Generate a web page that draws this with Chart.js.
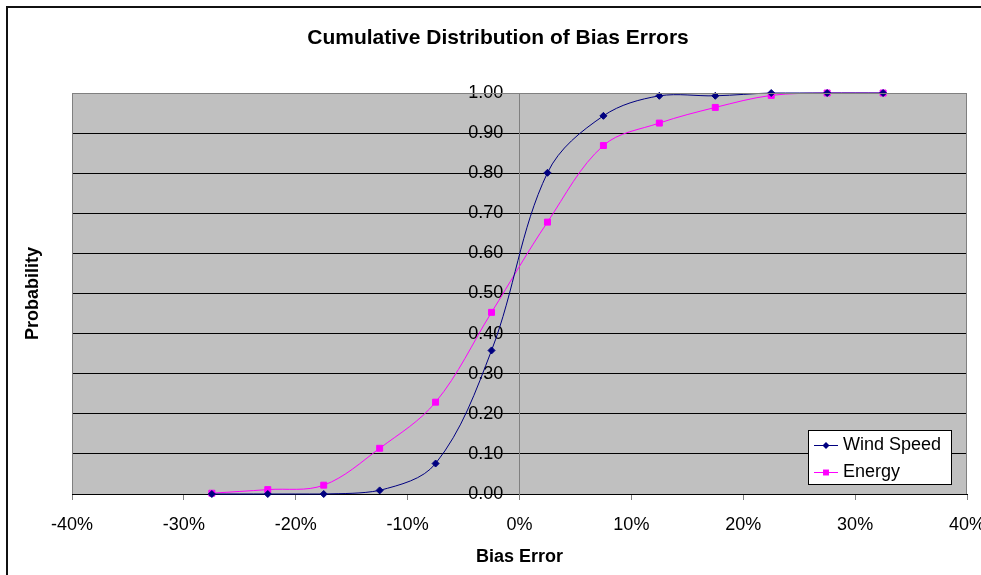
<!DOCTYPE html>
<html>
<head>
<meta charset="utf-8">
<script src="https://cdn.jsdelivr.net/npm/chart.js@4/dist/chart.umd.min.js"></script>
<style>
  html, body { margin: 0; padding: 0; background: #fff; overflow: hidden; }
  #frame { position: absolute; left: 6px; top: 6px; width: 1100px; height: 1000px;
           border-left: 2px solid #111; border-top: 2px solid #111; }
  #wrap { position: absolute; left: 0; top: 0; width: 1000px; height: 575px; }
</style>
</head>
<body>
<div id="frame"></div>
<div id="wrap"><canvas id="cdfChart"></canvas></div>
<script>
"use strict";

// bias error bin centres (%)
var biasErr   = [-27.5, -22.5, -17.5, -12.5, -7.5, -2.5, 2.5, 7.5, 12.5, 17.5, 22.5, 27.5, 32.5];
var windSpeed = [0, 0, 0, 0.009, 0.076, 0.358, 0.801, 0.943, 0.993, 0.993, 1.0, 1.0, 1.0];
var energy    = [0.002, 0.011, 0.022, 0.114, 0.229, 0.453, 0.678, 0.869, 0.925, 0.964, 0.994, 1.0, 1.0];
var seriesNames = ['Wind Speed', 'Energy'];
var xTicks = [-40, -30, -20, -10, 0, 10, 20, 30, 40];

var FONT = "Arial, 'Liberation Sans', sans-serif";
Chart.defaults.font.family = FONT;
Chart.defaults.color = '#000';

function pts(ys) {
  return ys.map(function(y, i) { return { x: biasErr[i], y: y }; });
}

/* plot background, frame, titles and the boxed legend */
var excelLook = {
  id: 'excelLook',
  beforeDraw: function(chart) {
    var a = chart.chartArea, c = chart.ctx;
    c.save();
    c.fillStyle = '#c0c0c0';
    c.fillRect(a.left, a.top, a.right - a.left, a.bottom - a.top);
    c.restore();
  },
  afterDraw: function(chart) {
    var a = chart.chartArea, c = chart.ctx;
    c.save();
    c.strokeStyle = '#808080';
    c.lineWidth = 1;
    c.beginPath();
    c.moveTo(a.left + 0.5, a.bottom);
    c.lineTo(a.left + 0.5, a.top + 0.5);
    c.lineTo(a.right - 0.5, a.top + 0.5);
    c.lineTo(a.right - 0.5, a.bottom);
    c.stroke();

    c.fillStyle = '#000';
    c.textAlign = 'center';
    c.textBaseline = 'middle';
    c.font = 'bold 21px ' + FONT;
    c.fillText('Cumulative Distribution of Bias Errors', 498, 38);
    c.font = 'bold 18px ' + FONT;
    c.fillText('Bias Error', (a.left + a.right) / 2, 557);
    c.translate(33, (a.top + a.bottom) / 2);
    c.rotate(-Math.PI / 2);
    c.fillText('Probability', 0, 0);
    c.restore();

    // legend box
    c.save();
    c.fillStyle = '#fff';
    c.fillRect(808, 430, 143, 54);
    c.strokeStyle = '#000';
    c.lineWidth = 1;
    c.strokeRect(808.5, 430.5, 143, 54);
    c.font = '18px ' + FONT;
    c.textAlign = 'left';
    c.textBaseline = 'middle';
    chart.data.datasets.forEach(function(ds, i) {
      var y = 445 + i * 27;
      c.strokeStyle = ds.borderColor;
      c.lineWidth = 1;
      c.beginPath();
      c.moveTo(814, y + 0.5);
      c.lineTo(838, y + 0.5);
      c.stroke();
      c.fillStyle = ds.pointBackgroundColor;
      Chart.helpers.drawPoint(c, { pointStyle: ds.pointStyle, radius: ds.pointRadius, borderWidth: 0 }, 826, y + 0.5);
      c.fillStyle = '#000';
      c.fillText(seriesNames[i], 843, y);
    });
    c.restore();
  }
};

var yTickLabel = function(v) { return Number(v).toFixed(2); };

new Chart(document.getElementById('cdfChart'), {
  type: 'line',
  data: {
    datasets: [{
      label: seriesNames[0],
      data: pts(windSpeed),
      borderColor: '#000080',
      backgroundColor: '#000080',
      pointBackgroundColor: '#000080',
      pointBorderColor: '#000080',
      pointStyle: 'rectRot',
      pointRadius: 3.5,
      borderWidth: 1,
      tension: 0.35,
      clip: false
    }, {
      label: seriesNames[1],
      data: pts(energy),
      borderColor: '#ff00ff',
      backgroundColor: '#ff00ff',
      pointBackgroundColor: '#ff00ff',
      pointBorderColor: '#ff00ff',
      pointStyle: 'rect',
      pointRadius: 4.2,
      borderWidth: 1,
      tension: 0.35,
      clip: false
    }]
  },
  options: {
    responsive: true,
    maintainAspectRatio: false,
    animation: false,
    layout: { padding: { top: 93, left: 72, right: 33, bottom: 41 } },
    plugins: { legend: { display: false }, title: { display: false }, tooltip: { enabled: false } },
    scales: {
      x: {
        type: 'linear',
        min: -40, max: 40,
        afterBuildTicks: function(s) { s.ticks = xTicks.map(function(v) { return { value: v }; }); },
        afterFit: function(s) { s.height = 40; },
        grid: { drawOnChartArea: false, drawTicks: true, tickLength: 6, color: '#808080' },
        border: { color: '#000', width: 1 },
        ticks: { font: { size: 18 }, padding: 14, maxRotation: 0, autoSkip: false,
                 callback: function(v) { return v + '%'; } }
      },
      // value axis crossing at 0%: line and grid only
      y: {
        position: { x: 0 },
        min: 0, max: 1,
        grid: { color: function(ctx) { return ctx.tick && ctx.tick.value >= 0.999 ? '#808080' : '#000'; },
                drawTicks: false },
        border: { color: '#808080', width: 1 },
        ticks: { stepSize: 0.1, display: false }
      },
      // its labels, set a little to the left of the crossing
      yLab: {
        axis: 'y',
        position: { x: -1.45 },
        min: 0, max: 1,
        grid: { display: false, drawTicks: false },
        border: { display: false },
        ticks: { stepSize: 0.1, font: { size: 18 }, padding: 0, callback: yTickLabel }
      }
    }
  },
  plugins: [excelLook]
});
</script>
</body>
</html>
